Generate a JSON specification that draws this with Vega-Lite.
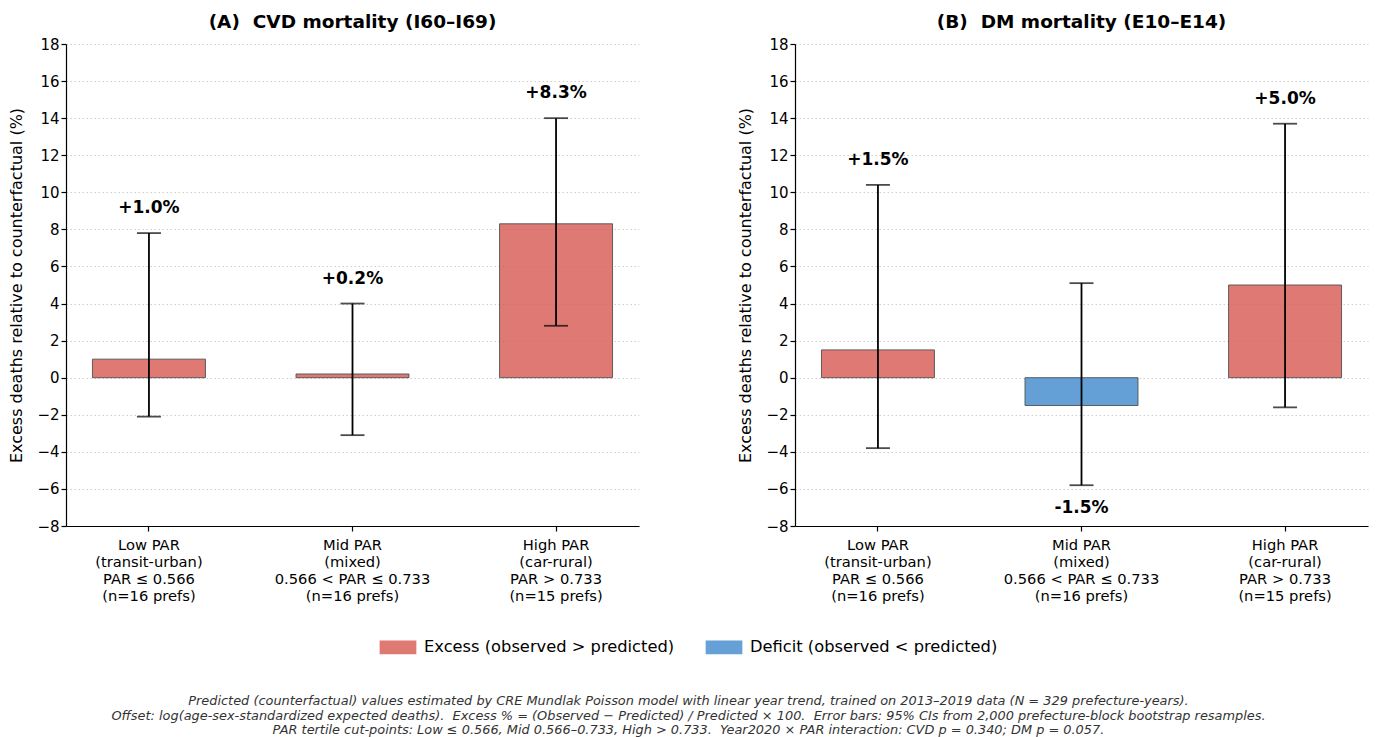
{
  "$schema": "https://vega.github.io/schema/vega-lite/v6.json",
  "background": "white",
  "padding": {"left": 8, "top": 12, "right": 4, "bottom": 4},
  "config": {
    "font": "DejaVu Sans",
    "view": {"stroke": null},
    "title": {"font": "DejaVu Sans", "fontSize": 18.5, "fontWeight": "bold", "color": "#000", "offset": 6},
    "axis": {"labelFont": "DejaVu Sans", "titleFont": "DejaVu Sans", "labelColor": "#000", "titleColor": "#000", "domainColor": "#000", "tickColor": "#000", "domainWidth": 1.2, "tickWidth": 1.2, "tickSize": 5},
    "axisY": {"labelOverlap": false, "titleFontSize": 16, "titleFontWeight": "normal", "labelFontSize": 15, "grid": true, "gridDash": [1.5, 2.5], "gridColor": "#c8c8c8", "gridWidth": 0.9, "titlePadding": 12},
    "legend": {"labelFont": "DejaVu Sans"}
  },
  "title": {
    "text": [
      "Predicted (counterfactual) values estimated by CRE Mundlak Poisson model with linear year trend, trained on 2013–2019 data (N = 329 prefecture-years).",
      "Offset: log(age-sex-standardized expected deaths).\u00a0 Excess % = (Observed − Predicted) / Predicted × 100.\u00a0 Error bars: 95% CIs from 2,000 prefecture-block bootstrap resamples.",
      "PAR tertile cut-points: Low ≤ 0.566, Mid 0.566–0.733, High > 0.733.\u00a0 Year2020 × PAR interaction: CVD p = 0.340; DM p = 0.057."
    ],
    "orient": "bottom",
    "anchor": "middle",
    "fontSize": 12.9,
    "fontStyle": "italic",
    "fontWeight": "normal",
    "color": "#333",
    "lineHeight": 14.5,
    "offset": 39
  },
  "datasets": {
    "bars": [
      {"panel": "A", "group": "Low PAR|(transit-urban)|PAR ≤ 0.566|(n=16 prefs)", "value": 1.0, "lo": -2.1, "hi": 7.8, "label": "+1.0%", "dir": "Excess (observed > predicted)"},
      {"panel": "A", "group": "Mid PAR|(mixed)|0.566 < PAR ≤ 0.733|(n=16 prefs)", "value": 0.2, "lo": -3.1, "hi": 4.0, "label": "+0.2%", "dir": "Excess (observed > predicted)"},
      {"panel": "A", "group": "High PAR|(car-rural)|PAR > 0.733|(n=15 prefs)", "value": 8.3, "lo": 2.8, "hi": 14.0, "label": "+8.3%", "dir": "Excess (observed > predicted)"},
      {"panel": "B", "group": "Low PAR|(transit-urban)|PAR ≤ 0.566|(n=16 prefs)", "value": 1.5, "lo": -3.8, "hi": 10.4, "label": "+1.5%", "dir": "Excess (observed > predicted)"},
      {"panel": "B", "group": "Mid PAR|(mixed)|0.566 < PAR ≤ 0.733|(n=16 prefs)", "value": -1.5, "lo": -5.8, "hi": 5.1, "label": "-1.5%", "dir": "Deficit (observed < predicted)"},
      {"panel": "B", "group": "High PAR|(car-rural)|PAR > 0.733|(n=15 prefs)", "value": 5.0, "lo": -1.6, "hi": 13.7, "label": "+5.0%", "dir": "Excess (observed > predicted)"}
    ]
  },
  "spacing": 98,
  "hconcat": [
    {
      "title": "(A)\u00a0 CVD mortality (I60–I69)",
      "width": 573,
      "height": 482,
      "data": {"name": "bars"},
      "transform": [{"filter": "datum.panel === 'A'"}],
      "encoding": {
        "x": {"field": "group", "type": "nominal", "sort": null,
          "scale": {"paddingInner": 0.445, "paddingOuter": 0.13},
          "axis": {"title": null, "labelAngle": 0, "labelExpr": "split(datum.label, '|')", "labelFontSize": 14.7, "labelLineHeight": 17, "labelPadding": 6}}
      },
      "layer": [
        {
          "mark": {"type": "bar", "stroke": "#333", "strokeWidth": 0.9, "opacity": 0.85},
          "encoding": {
            "y": {"field": "value", "type": "quantitative",
              "scale": {"domain": [-8, 18], "nice": false, "zero": false},
              "axis": {"values": [-8, -6, -4, -2, 0, 2, 4, 6, 8, 10, 12, 14, 16, 18], "title": "Excess deaths relative to counterfactual (%)"}},
            "y2": {"datum": 0},
            "color": {"field": "dir", "type": "nominal",
              "scale": {"domain": ["Excess (observed > predicted)", "Deficit (observed < predicted)"], "range": ["#d9625b", "#4a90d0"]},
              "legend": {"title": null, "orient": "none", "legendX": 318, "legendY": 589, "direction": "horizontal", "labelFontSize": 16.3, "labelLimit": 0, "symbolType": "M-1.35,-0.5H1.35V0.5H-1.35Z", "symbolSize": 740, "symbolStrokeWidth": 0, "columnPadding": 30, "symbolOffset": 0, "labelOffset": 12}}
          }
        },
        {
          "mark": {"type": "rule", "color": "#333", "strokeWidth": 1.2},
          "encoding": {"y": {"datum": 0, "axis": {"values": [-8, -6, -4, -2, 0, 2, 4, 6, 8, 10, 12, 14, 16, 18], "title": "Excess deaths relative to counterfactual (%)"}}}
        },
        {
          "mark": {"type": "rule", "color": "#000", "strokeWidth": 1.8},
          "encoding": {"y": {"field": "lo", "type": "quantitative", "axis": {"values": [-8, -6, -4, -2, 0, 2, 4, 6, 8, 10, 12, 14, 16, 18], "title": "Excess deaths relative to counterfactual (%)"}}, "y2": {"field": "hi"}}
        },
        {
          "mark": {"type": "tick", "color": "#000", "size": 24, "thickness": 1.8},
          "encoding": {"y": {"field": "lo", "type": "quantitative", "axis": {"values": [-8, -6, -4, -2, 0, 2, 4, 6, 8, 10, 12, 14, 16, 18], "title": "Excess deaths relative to counterfactual (%)"}}}
        },
        {
          "mark": {"type": "tick", "color": "#000", "size": 24, "thickness": 1.8},
          "encoding": {"y": {"field": "hi", "type": "quantitative", "axis": {"values": [-8, -6, -4, -2, 0, 2, 4, 6, 8, 10, 12, 14, 16, 18], "title": "Excess deaths relative to counterfactual (%)"}}}
        },
        {
          "transform": [{"filter": "datum.value >= 0"}],
          "mark": {"type": "text", "fontSize": 17, "fontWeight": "bold", "color": "#000", "dy": -25, "baseline": "middle"},
          "encoding": {"y": {"field": "hi", "type": "quantitative", "axis": {"values": [-8, -6, -4, -2, 0, 2, 4, 6, 8, 10, 12, 14, 16, 18], "title": "Excess deaths relative to counterfactual (%)"}}, "text": {"field": "label"}}
        },
        {
          "transform": [{"filter": "datum.value < 0"}],
          "mark": {"type": "text", "fontSize": 17, "fontWeight": "bold", "color": "#000", "dy": 23, "baseline": "middle"},
          "encoding": {"y": {"field": "lo", "type": "quantitative", "axis": {"values": [-8, -6, -4, -2, 0, 2, 4, 6, 8, 10, 12, 14, 16, 18], "title": "Excess deaths relative to counterfactual (%)"}}, "text": {"field": "label"}}
        }
      ]
    },
    {
      "title": "(B)\u00a0 DM mortality (E10–E14)",
      "width": 573,
      "height": 482,
      "data": {"name": "bars"},
      "transform": [{"filter": "datum.panel === 'B'"}],
      "encoding": {
        "x": {"field": "group", "type": "nominal", "sort": null,
          "scale": {"paddingInner": 0.445, "paddingOuter": 0.13},
          "axis": {"title": null, "labelAngle": 0, "labelExpr": "split(datum.label, '|')", "labelFontSize": 14.7, "labelLineHeight": 17, "labelPadding": 6}}
      },
      "layer": [
        {
          "mark": {"type": "bar", "stroke": "#333", "strokeWidth": 0.9, "opacity": 0.85},
          "encoding": {
            "y": {"field": "value", "type": "quantitative",
              "scale": {"domain": [-8, 18], "nice": false, "zero": false},
              "axis": {"values": [-8, -6, -4, -2, 0, 2, 4, 6, 8, 10, 12, 14, 16, 18], "title": "Excess deaths relative to counterfactual (%)"}},
            "y2": {"datum": 0},
            "color": {"field": "dir", "type": "nominal",
              "scale": {"domain": ["Excess (observed > predicted)", "Deficit (observed < predicted)"], "range": ["#d9625b", "#4a90d0"]},
              "legend": {"title": null, "orient": "none", "legendX": 318, "legendY": 589, "direction": "horizontal", "labelFontSize": 16.3, "labelLimit": 0, "symbolType": "M-1.35,-0.5H1.35V0.5H-1.35Z", "symbolSize": 740, "symbolStrokeWidth": 0, "columnPadding": 30, "symbolOffset": 0, "labelOffset": 12}}
          }
        },
        {
          "mark": {"type": "rule", "color": "#333", "strokeWidth": 1.2},
          "encoding": {"y": {"datum": 0, "axis": {"values": [-8, -6, -4, -2, 0, 2, 4, 6, 8, 10, 12, 14, 16, 18], "title": "Excess deaths relative to counterfactual (%)"}}}
        },
        {
          "mark": {"type": "rule", "color": "#000", "strokeWidth": 1.8},
          "encoding": {"y": {"field": "lo", "type": "quantitative", "axis": {"values": [-8, -6, -4, -2, 0, 2, 4, 6, 8, 10, 12, 14, 16, 18], "title": "Excess deaths relative to counterfactual (%)"}}, "y2": {"field": "hi"}}
        },
        {
          "mark": {"type": "tick", "color": "#000", "size": 24, "thickness": 1.8},
          "encoding": {"y": {"field": "lo", "type": "quantitative", "axis": {"values": [-8, -6, -4, -2, 0, 2, 4, 6, 8, 10, 12, 14, 16, 18], "title": "Excess deaths relative to counterfactual (%)"}}}
        },
        {
          "mark": {"type": "tick", "color": "#000", "size": 24, "thickness": 1.8},
          "encoding": {"y": {"field": "hi", "type": "quantitative", "axis": {"values": [-8, -6, -4, -2, 0, 2, 4, 6, 8, 10, 12, 14, 16, 18], "title": "Excess deaths relative to counterfactual (%)"}}}
        },
        {
          "transform": [{"filter": "datum.value >= 0"}],
          "mark": {"type": "text", "fontSize": 17, "fontWeight": "bold", "color": "#000", "dy": -25, "baseline": "middle"},
          "encoding": {"y": {"field": "hi", "type": "quantitative", "axis": {"values": [-8, -6, -4, -2, 0, 2, 4, 6, 8, 10, 12, 14, 16, 18], "title": "Excess deaths relative to counterfactual (%)"}}, "text": {"field": "label"}}
        },
        {
          "transform": [{"filter": "datum.value < 0"}],
          "mark": {"type": "text", "fontSize": 17, "fontWeight": "bold", "color": "#000", "dy": 23, "baseline": "middle"},
          "encoding": {"y": {"field": "lo", "type": "quantitative", "axis": {"values": [-8, -6, -4, -2, 0, 2, 4, 6, 8, 10, 12, 14, 16, 18], "title": "Excess deaths relative to counterfactual (%)"}}, "text": {"field": "label"}}
        }
      ]
    }
  ]
}
